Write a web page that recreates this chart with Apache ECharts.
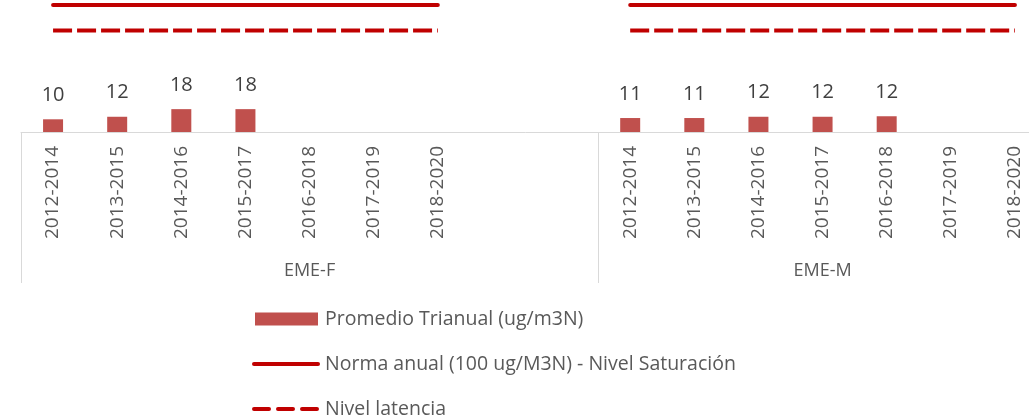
<!DOCTYPE html>
<html>
<head>
<meta charset="utf-8">
<script src="https://cdn.jsdelivr.net/npm/echarts@6/dist/echarts.min.js"></script>
<style>
  html, body { margin: 0; padding: 0; background: #fff; }
  #chart { width: 1029px; height: 418px; }
</style>
</head>
<body>
<div id="chart"></div>
<script>
// two station groups: EME-F has 9 slots (last two empty), EME-M has 7
var groups = ['EME-F', 'EME-M'];
var periodsF = ['2012-2014', '2013-2015', '2014-2016', '2015-2017', '2016-2018', '2017-2019', '2018-2020', '', ''];
var periodsM = ['2012-2014', '2013-2015', '2014-2016', '2015-2017', '2016-2018', '2017-2019', '2018-2020'];

var promedioF = [10, 12, 18, 18, null, null, null, null, null];
var promedioM = [11, 11, 12, 12, 12.4, null, null];
var normaF = [100, 100, 100, 100, 100, 100, 100, null, null];
var normaM = [100, 100, 100, 100, 100, 100, 100];
var latenciaF = [80, 80, 80, 80, 80, 80, 80, null, null];
var latenciaM = [80, 80, 80, 80, 80, 80, 80];

var categories = periodsF.concat(periodsM);
var barData = promedioF.concat(promedioM);
var normaData = normaF.concat(normaM);
var latenciaData = latenciaF.concat(latenciaM);

// group axis: same slots, name on the middle slot, tick at each group start
var groupSizes = [periodsF.length, periodsM.length];
var groupSlots = [];
var groupStarts = {};
groupSizes.forEach(function (n, g) {
    groupStarts[groupSlots.length] = true;
    for (var i = 0; i < n; i++) {
        groupSlots.push(i === Math.floor(n / 2) ? groups[g] : '');
    }
});

var FONT = '"Open Sans", sans-serif';

// legend icons (box 68x13), the M points only fix the bounding box
var iconBar = 'path://M0,0 M68,13 M3,0 H66 V13 H3 Z';
var iconSolid = 'path://M0,0 M68,13 M2,4.5 H66 A2,2 0 0 1 66,8.5 H2 A2,2 0 0 1 2,4.5 Z';
var iconDash = 'path://M0,0 M68,13 ' +
    'M2,4.5 H17 A2,2 0 0 1 17,8.5 H2 A2,2 0 0 1 2,4.5 Z ' +
    'M26,4.5 H41 A2,2 0 0 1 41,8.5 H26 A2,2 0 0 1 26,4.5 Z ' +
    'M50,4.5 H65 A2,2 0 0 1 65,8.5 H50 A2,2 0 0 1 50,4.5 Z';

var chart = echarts.init(document.getElementById('chart'));

var option = {
    animation: false,
    grid: { left: 21, top: 5, width: 1026, height: 127, outerBoundsMode: 'none', containLabel: false },
    xAxis: [{
        type: 'category',
        data: categories,
        axisLine: { lineStyle: { color: '#d9d9d9', width: 1 } },
        axisTick: { show: false },
        axisLabel: {
            interval: 0, rotate: 90, margin: 14,
            fontFamily: FONT, fontSize: 19, color: '#595959'
        }
    }, {
        type: 'category',
        position: 'bottom',
        data: groupSlots,
        axisLine: { show: false },
        axisTick: {
            show: true, length: 151, lineStyle: { color: '#d9d9d9' },
            interval: function (idx) { return !!groupStarts[idx]; }
        },
        axisLabel: { interval: 0, margin: 130, fontFamily: FONT, fontSize: 18, color: '#595959' }
    }],
    yAxis: {
        type: 'value', min: 0, max: 100, show: false,
        splitLine: { show: false }
    },
    legend: {
        orient: 'vertical',
        left: 252, top: 309, height: 140, padding: 0,
        itemWidth: 68, itemHeight: 13, itemGap: 25,
        textStyle: { fontFamily: FONT, fontSize: 19.5, color: '#595959', lineHeight: 20 },
        data: [
            { name: 'Promedio Trianual (ug/m3N)', icon: iconBar },
            { name: 'Norma anual (100 ug/M3N) - Nivel Saturación', icon: iconSolid },
            { name: 'Nivel latencia', icon: iconDash }
        ]
    },
    series: [{
        name: 'Promedio Trianual (ug/m3N)',
        type: 'bar',
        data: barData,
        barWidth: 20,
        itemStyle: { color: '#c0504d' },
        label: {
            show: true, position: 'top', distance: 14,
            fontFamily: FONT, fontSize: 20, color: '#404040',
            formatter: function (p) { return Math.round(p.value); }
        }
    }, {
        name: 'Norma anual (100 ug/M3N) - Nivel Saturación',
        type: 'line',
        data: normaData,
        symbol: 'none',
        clip: false,
        lineStyle: { color: '#c00000', width: 4, cap: 'round' },
        itemStyle: { color: '#c00000' }
    }, {
        name: 'Nivel latencia',
        type: 'line',
        data: latenciaData,
        symbol: 'none',
        clip: false,
        lineStyle: { color: '#c00000', width: 4, type: [19, 5], cap: 'butt' },
        itemStyle: { color: '#c00000' }
    }]
};

chart.setOption(option);
</script>
</body>
</html>
